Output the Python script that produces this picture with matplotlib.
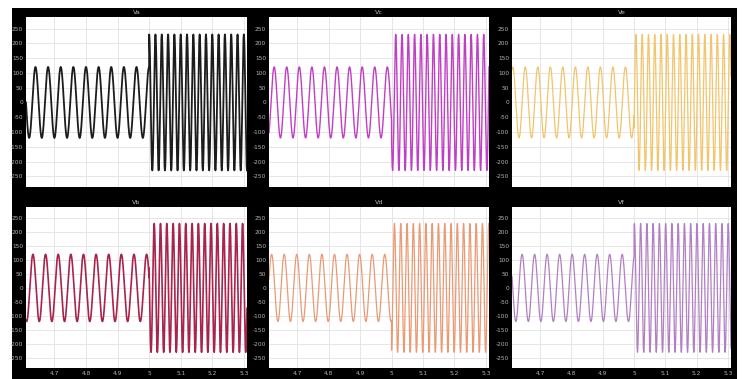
import numpy as np
import matplotlib
matplotlib.use("Agg")
import matplotlib.pyplot as plt
from matplotlib.patches import Rectangle

### Data
names = ["Va", "Vc", "Ve", "Vb", "Vd", "Vf"]
t_switch = 5.0          # s, step change
amp_before = [120, 120, 120, 120, 120, 120]
amp_after = [230, 230, 230, 230, 230, 230]
f_before = 25.0         # Hz
f_after = 50.0          # Hz
# phase lead in degrees (peak position relative to Va)
phase_deg = [0, 122, 248, 72, 195, 340]
t_start, t_end = 4.61, 5.31
xticks = [4.7, 4.8, 4.9, 5, 5.1, 5.2, 5.3]
xtick_labels = ["4.7", "4.8", "4.9", "5", "5.1", "5.2", "5.3"]
yticks = [-250, -200, -150, -100, -50, 0, 50, 100, 150, 200, 250]

colors = ["#1c1c1c", "#c03ec4", "#f2c46c", "#a8244c", "#e89a74", "#b27ec4"]
lws = [1.3, 1.0, 0.9, 1.2, 0.9, 0.9]

### Figure
W, H = 742, 379
fig = plt.figure(figsize=(W/100, H/100), dpi=100)
fig.patch.set_facecolor("white")
fig.patches.append(Rectangle((12/W, 0), (737-12)/W, (H-8)/H,
                             transform=fig.transFigure, facecolor="black",
                             edgecolor="none", zorder=-10))

cols = [(26, 247), (269, 489), (512, 731)]
rows = [(17, 187), (207, 368)]

t = np.arange(t_start, t_end, 2e-5)

for k, name in enumerate(names):
    r, c = divmod(k, 3)
    x0, x1 = cols[c]
    y0, y1 = rows[r]
    ax = fig.add_axes([x0/W, 1-y1/H, (x1-x0)/W, (y1-y0)/H])
    ph = np.deg2rad(phase_deg[k])
    v = np.where(t < t_switch,
                 amp_before[k]*np.cos(2*np.pi*f_before*(t-t_switch) + ph),
                 amp_after[k]*np.cos(2*np.pi*f_after*(t-t_switch) + ph))
    ax.plot(t, v, color=colors[k], lw=lws[k])
    ax.set_xlim(t_start, t_end)
    ax.set_ylim(-286, 289)
    ax.set_xticks(xticks)
    ax.set_yticks(yticks)
    ax.set_yticklabels([str(y) for y in yticks])
    if r == 1:
        ax.set_xticklabels(xtick_labels)
    else:
        ax.set_xticklabels([])
    ax.tick_params(length=0, labelsize=4.2, colors="#b4b4b4", pad=2)
    ax.grid(True, color="#e2e2e2", lw=0.6)
    ax.set_axisbelow(True)
    for s in ax.spines.values():
        s.set_visible(False)
    ax.set_facecolor("white")
    ax.set_title(name, fontsize=4.6, color="#bdbdbd", pad=2)

fig.savefig("out.png", dpi=100, facecolor="white")
